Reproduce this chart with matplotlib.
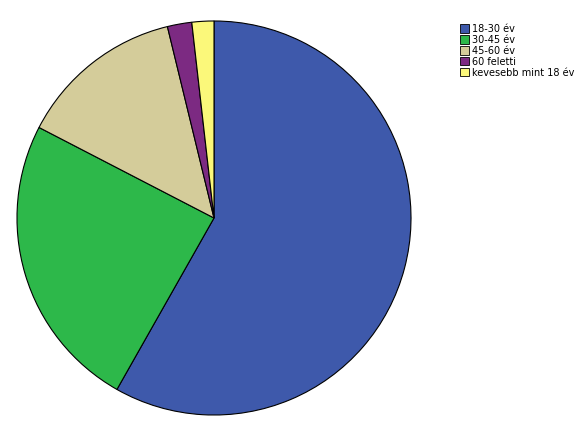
import matplotlib.pyplot as plt
from matplotlib.patches import Patch

labels = ['18-30 év', '30-45 év', '45-60 év', '60 feletti', 'kevesebb mint 18 év']
values = [58.2, 24.4, 13.6, 2.0, 1.8]
colors = ['#3e59ab', '#2db84a', '#d4cc9a', '#7c2a82', '#fbf87a']

fig = plt.figure(figsize=(5.84, 4.29), dpi=100)
ax = fig.add_axes([16/584, 13/429, 396/584, 396/429])
ax.pie(values, colors=colors, startangle=90, counterclock=False,
       wedgeprops=dict(edgecolor='black', linewidth=0.8))
ax.set_aspect('equal')
ax.set_xlim(-1.005, 1.005)
ax.set_ylim(-1.005, 1.005)

handles = [Patch(facecolor=c, edgecolor='black', linewidth=0.6) for c in colors]
fig.legend(handles, labels, loc='upper left', bbox_to_anchor=(456/584, 1 - 20/429),
           frameon=False, fontsize=7, handlelength=0.9, handleheight=0.9,
           handletextpad=0.3, labelspacing=0.1, borderaxespad=0)
fig.savefig('out.png', dpi=100)
